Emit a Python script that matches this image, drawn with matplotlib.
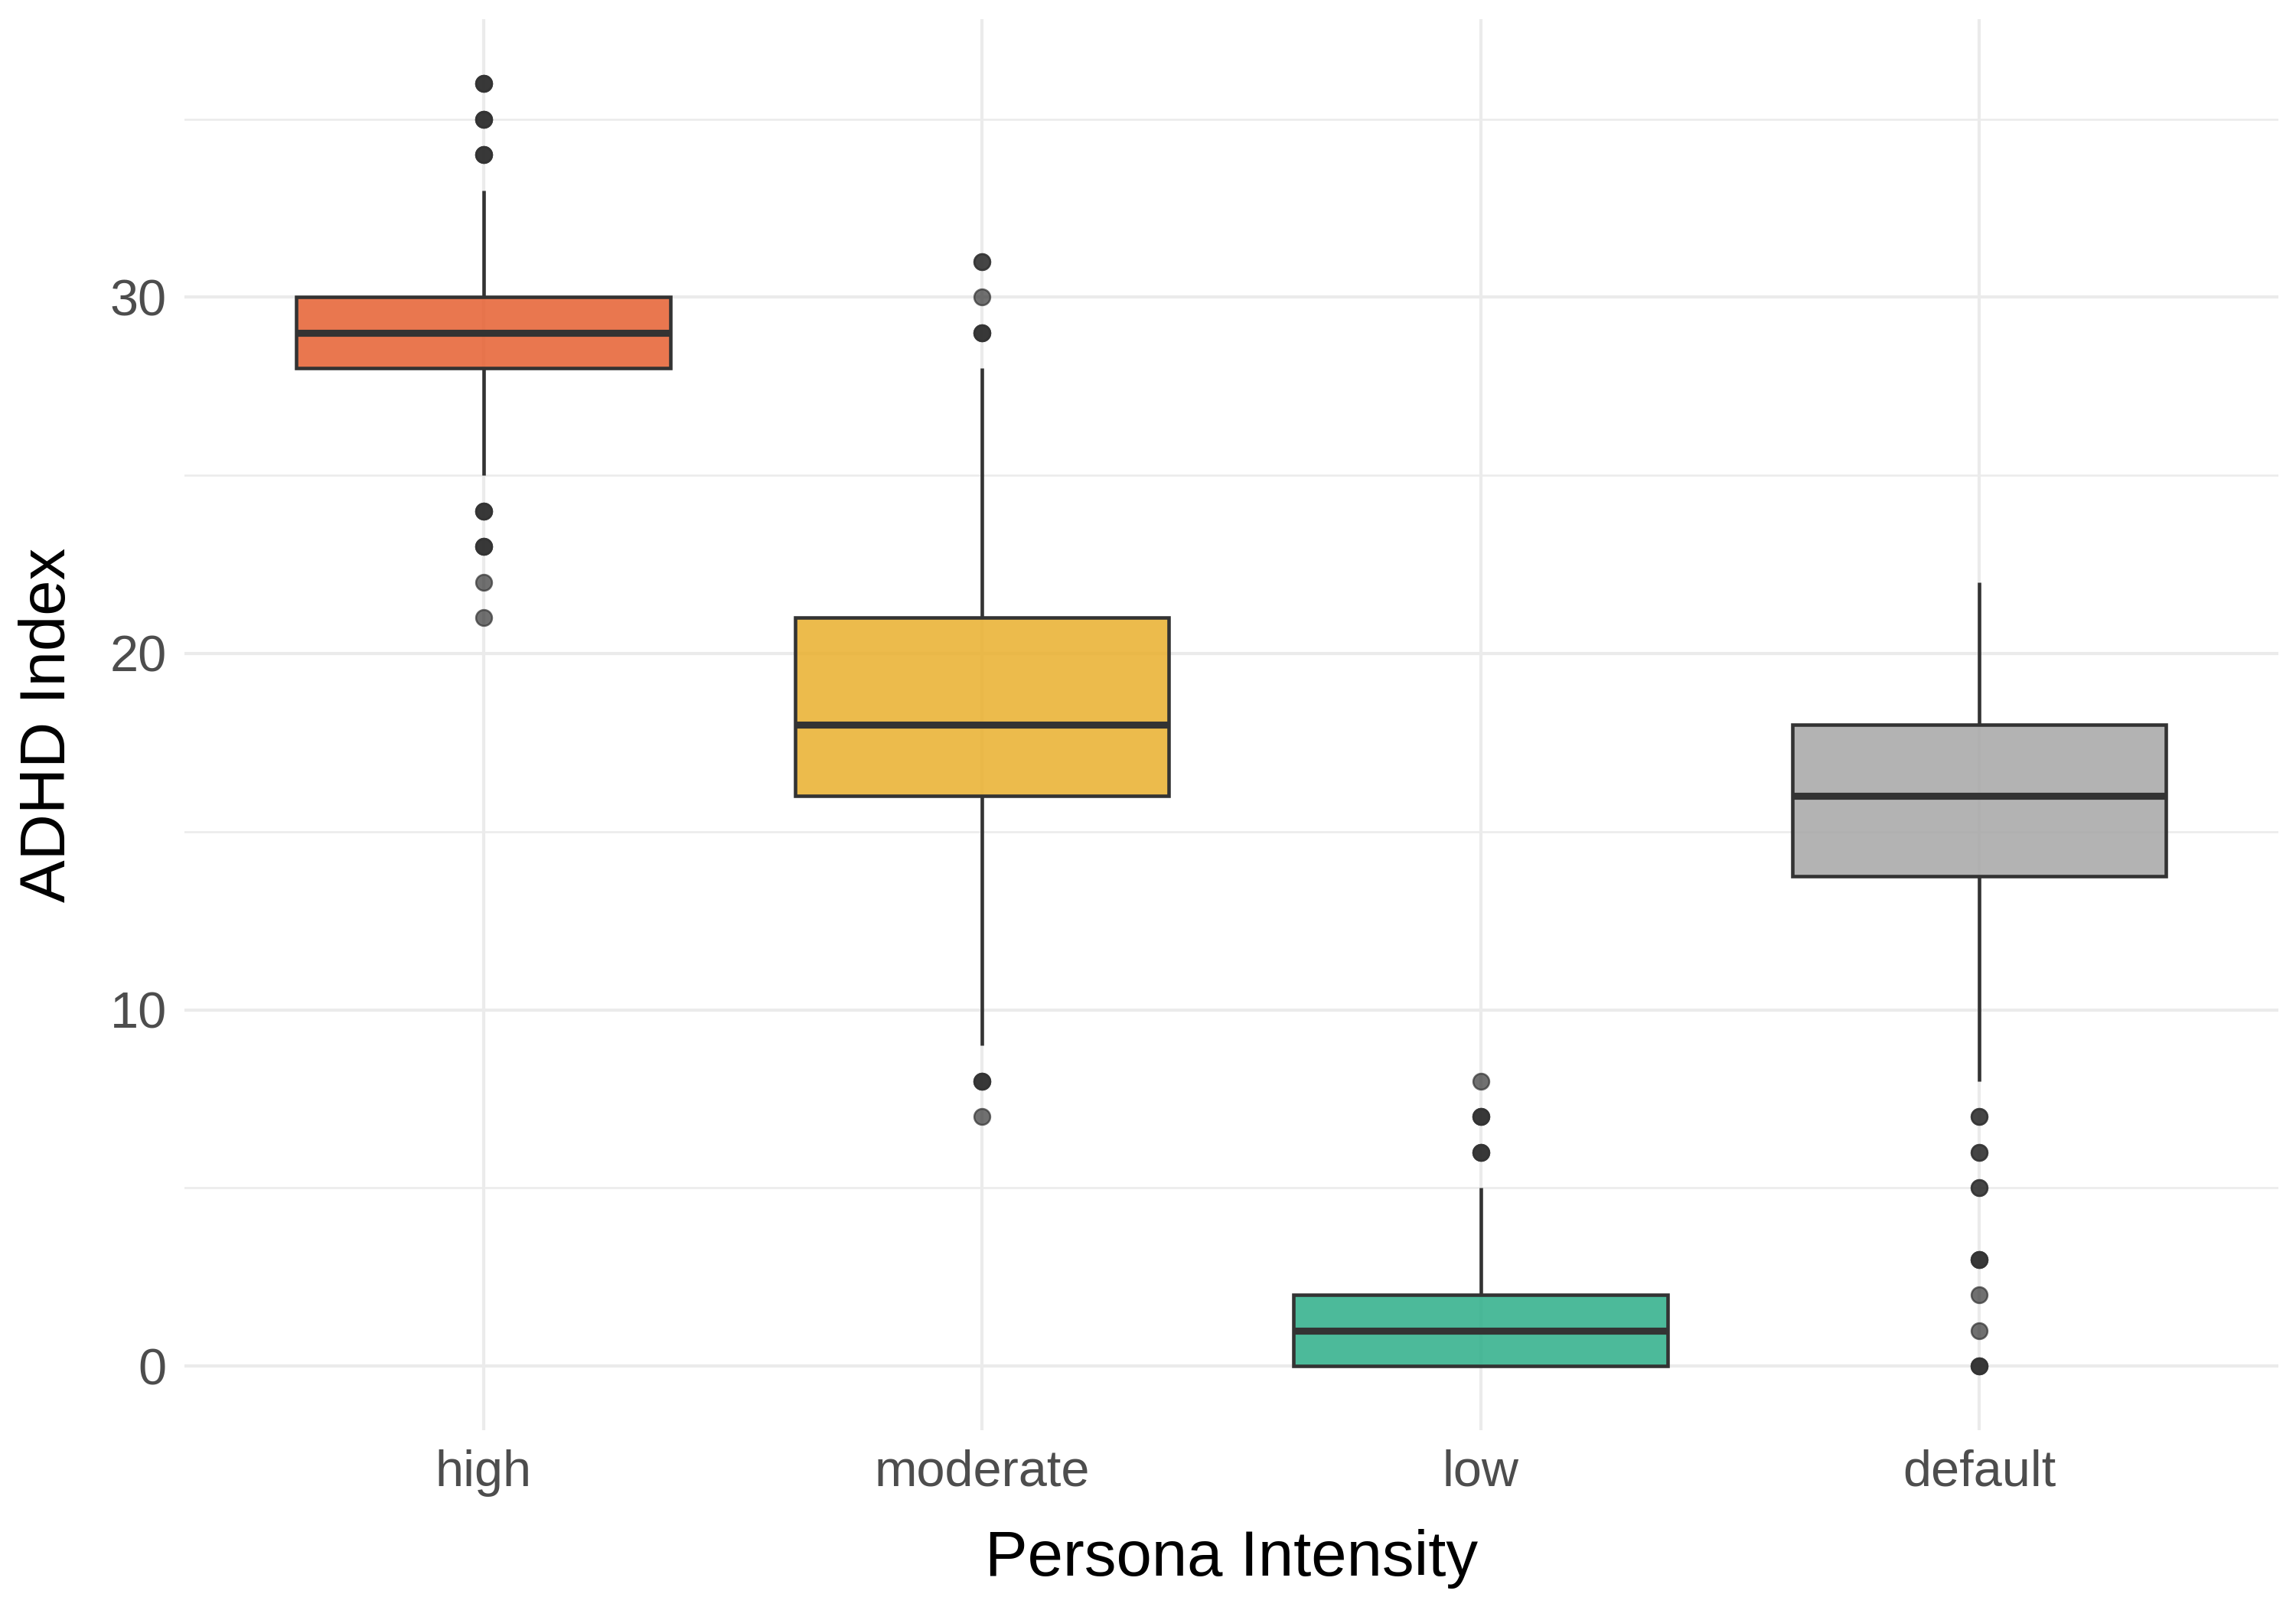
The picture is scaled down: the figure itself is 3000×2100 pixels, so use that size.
import numpy as np
import matplotlib
matplotlib.use('Agg')
import matplotlib.pyplot as plt

plt.rcParams['font.family'] = ['Liberation Sans', 'DejaVu Sans']

# groups along the x axis
categories = ['high', 'moderate', 'low', 'default']

# box statistics
q1 = [28, 16, 0, 13.75]
medians = [29, 18, 1, 16]
q3 = [30, 21, 2, 18]
whisker_lo = [25, 9, 0, 8]
whisker_hi = [33, 28, 5, 22]

# outliers: value and how many points sit on top of each other
outlier_values = [
    [21, 22, 23, 24, 34, 35, 36],
    [7, 8, 29, 30, 31],
    [6, 7, 8],
    [0, 1, 2, 3, 5, 6, 7],
]
outlier_counts = [
    [1, 1, 3, 3, 3, 3, 3],
    [1, 3, 3, 1, 2],
    [3, 3, 1],
    [3, 1, 1, 3, 2, 2, 2],
]

fill_colors = ['#E65F30', '#E9AF2C', '#2CAE88', '#A6A6A6']

y_ticks = [0, 10, 20, 30]
y_minor = [5, 15, 25, 35]

fig = plt.figure(figsize=(10, 7), dpi=300)
ax = fig.add_axes([0.0803, 0.110, 0.912, 0.878])

pos = np.arange(1, len(categories) + 1)

stats = []
for i, name in enumerate(categories):
    stats.append(dict(label=name, q1=q1[i], med=medians[i], q3=q3[i],
                      whislo=whisker_lo[i], whishi=whisker_hi[i], fliers=[]))

dark = '#333333'
bp = ax.bxp(stats, positions=pos, widths=0.75, patch_artist=True,
            showcaps=False, showfliers=False,
            boxprops=dict(edgecolor=dark, linewidth=1.1),
            whiskerprops=dict(color=dark, linewidth=1.1, solid_capstyle='butt'),
            medianprops=dict(color=dark, linewidth=2.2, solid_capstyle='butt'),
            zorder=3)
for patch, c in zip(bp['boxes'], fill_colors):
    patch.set_facecolor(c)
    patch.set_alpha(None)
    patch.set_facecolor(matplotlib.colors.to_rgba(c, 0.85))

for i in range(len(categories)):
    for v, n in zip(outlier_values[i], outlier_counts[i]):
        for _ in range(n):
            ax.plot(pos[i], v, 'o', color=dark, alpha=0.7, markersize=5,
                    markeredgewidth=0.6, zorder=4)

ax.set_xlim(0.4, 4.6)
ax.set_ylim(-1.8, 37.8)
ax.set_xticks(pos)
ax.set_xticklabels(categories)
ax.set_yticks(y_ticks)
ax.set_yticks(y_minor, minor=True)

ax.grid(True, which='major', color='#EBEBEB', linewidth=1.0, zorder=0)
ax.grid(True, which='minor', axis='y', color='#EBEBEB', linewidth=0.6, zorder=0)
ax.set_axisbelow(True)
for s in ax.spines.values():
    s.set_visible(False)
ax.tick_params(which='both', length=0, labelsize=16, labelcolor='#4D4D4D')
ax.tick_params(axis='y', pad=5.5)
ax.tick_params(axis='x', pad=6)

ax.set_xlabel('Persona Intensity', fontsize=20, labelpad=10)
ax.set_ylabel('ADHD Index', fontsize=20, labelpad=10)

fig.savefig('out.png', dpi=300)
